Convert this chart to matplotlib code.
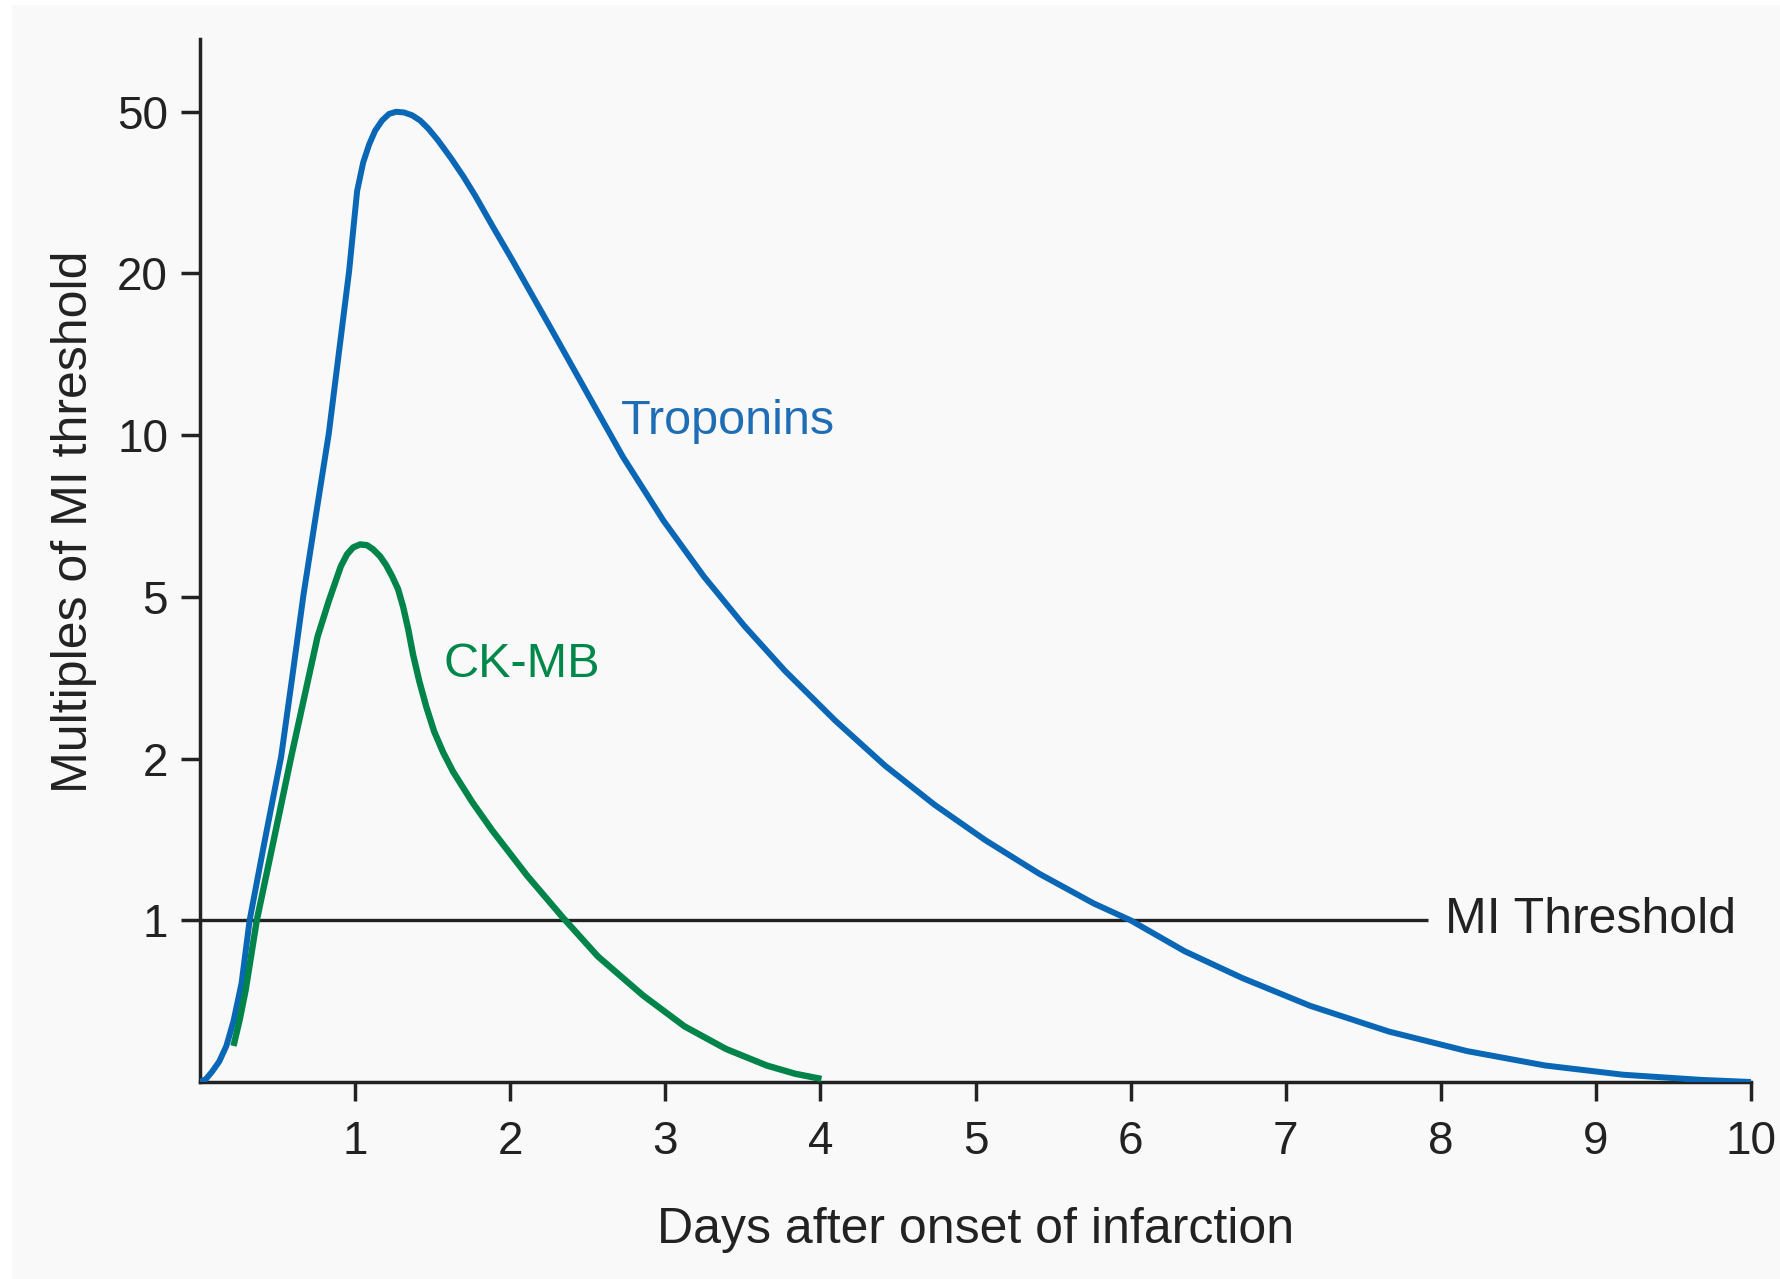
import matplotlib as mpl
mpl.use('Agg')

import numpy as np
import matplotlib.pyplot as plt
from matplotlib.patches import Rectangle

plt.rcParams['font.family'] = ['Liberation Sans', 'DejaVu Sans']

# days after onset / multiples of the MI threshold
trop_days = [0, 0.039, 0.078, 0.124, 0.170, 0.216, 0.268, 0.320, 0.418, 0.523,
             0.595, 0.667, 0.752, 0.830, 0.895, 0.961, 1.013, 1.052, 1.090, 1.129,
             1.174, 1.219, 1.265, 1.316, 1.368, 1.419, 1.471, 1.535, 1.619, 1.697,
             1.774, 1.890, 2.013, 2.279, 2.545, 2.727, 2.987, 3.248, 3.510, 3.771,
             4.096, 4.417, 4.737, 5.063, 5.413, 5.762, 6.0, 6.348, 6.720, 7.158,
             7.665, 8.170, 8.673, 9.176, 9.679, 10.0]
trop_vals = [0, 0.019, 0.064, 0.127, 0.223, 0.376, 0.611, 1.0, 1.41, 2.02,
             3.18, 5.04, 7.24, 10.05, 14.2, 20.2, 31.9, 37.5, 41.5, 44.9,
             47.6, 49.4, 50.0, 49.8, 49.0, 47.6, 45.5, 42.5, 38.4, 34.7,
             31.1, 26.0, 21.6, 15.5, 11.3, 9.11, 6.94, 5.46, 4.24, 3.29,
             2.48, 1.94, 1.64, 1.41, 1.22, 1.075, 1.0, 0.809, 0.643, 0.471,
             0.312, 0.191, 0.102, 0.045, 0.013, 0.0]

ckmb_days = [0.216, 0.255, 0.294, 0.366, 0.477, 0.588, 0.673, 0.758, 0.830, 0.908,
             0.948, 0.987, 1.032, 1.077, 1.116, 1.161, 1.2, 1.239, 1.277, 1.310,
             1.342, 1.374, 1.413, 1.458, 1.510, 1.568, 1.632, 1.755, 1.884, 2.110,
             2.338, 2.565, 2.857, 3.124, 3.392, 3.654, 3.837, 4.007]
ckmb_vals = [0.223, 0.382, 0.567, 1.0, 1.418, 2.02, 2.84, 3.99, 4.88, 5.70,
             6.00, 6.18, 6.26, 6.24, 6.13, 5.95, 5.73, 5.46, 5.17, 4.72,
             4.17, 3.60, 3.11, 2.69, 2.33, 2.07, 1.89, 1.66, 1.47, 1.21,
             1.013, 0.777, 0.535, 0.344, 0.204, 0.102, 0.051, 0.019]

y_ticks = [1, 2, 5, 10, 20, 50]
x_ticks = [1, 2, 3, 4, 5, 6, 7, 8, 9, 10]
threshold = 1
threshold_end = 7.92

# axis is evenly spaced between 0, 1, 2, 5, 10, 20, 50 (log between ticks, linear below 1)
anchor_v = np.array([1, 2, 5, 10, 20, 50, 125.0])
anchor_p = np.arange(1, 8, dtype=float)

def forward(v):
    v = np.asarray(v, dtype=float)
    lg = np.log10(np.clip(v, 1e-9, None))
    return np.where(v <= 1, v, np.interp(lg, np.log10(anchor_v), anchor_p))

def inverse(p):
    p = np.asarray(p, dtype=float)
    return np.where(p <= 1, p, 10 ** np.interp(p, anchor_p, np.log10(anchor_v)))

blue = '#0a67b5'
green = '#00844a'
ink = '#222222'

fig = plt.figure(figsize=(17.81, 12.79), dpi=100, facecolor='white')
fig.add_artist(Rectangle((12 / 1781, 0), 1, 1 - 5 / 1279, transform=fig.transFigure,
                         facecolor='#f9f9f9', edgecolor='none', zorder=-10))
ax = fig.add_axes([200 / 1781, 197 / 1279, 1551 / 1781, 1043 / 1279])
ax.set_facecolor('none')
ax.set_zorder(1)
ax.set_yscale('function', functions=(forward, inverse))

ax.plot([0, threshold_end], [threshold, threshold], color=ink, lw=2.4, solid_capstyle='butt', zorder=2)
ax.plot(trop_days, trop_vals, color=blue, lw=4.3, solid_capstyle='round',
        solid_joinstyle='round', zorder=3)
ax.plot(ckmb_days, ckmb_vals, color=green, lw=4.6, solid_capstyle='butt',
        solid_joinstyle='round', zorder=4)

ax.text(8.03, threshold, 'MI Threshold', fontsize=36, color=ink, va='center', ha='left')
ax.text(2.714, 10.05, 'Troponins', fontsize=35, color='#1f6db5', va='baseline', ha='left')
ax.text(1.568, 3.18, 'CK-MB', fontsize=35, color='#00874a', va='baseline', ha='left')

ax.set_xlim(0, 10)
ax.set_ylim(0, float(inverse(6.45)))
ax.set_xticks(x_ticks)
ax.set_xticklabels([str(t) for t in x_ticks])
ax.set_yticks(y_ticks)
ax.set_yticklabels([str(t) for t in y_ticks])
ax.minorticks_off()

for s in ['top', 'right']:
    ax.spines[s].set_visible(False)
for s in ['left', 'bottom']:
    ax.spines[s].set_color(ink)
    ax.spines[s].set_linewidth(2.5)

ax.tick_params(axis='both', direction='out', length=14, width=2.5, color=ink,
               labelsize=33, labelcolor=ink)
ax.tick_params(axis='x', pad=13)
ax.tick_params(axis='y', pad=9)

ax.set_xlabel('Days after onset of infarction', fontsize=36, color=ink)
ax.set_ylabel('Multiples of MI threshold', fontsize=36, color=ink)
ax.xaxis.set_label_coords(0.5, -0.1196)
ax.yaxis.set_label_coords(-0.0665, 0.537)

fig.savefig('out.png', dpi=100, facecolor=fig.get_facecolor())
